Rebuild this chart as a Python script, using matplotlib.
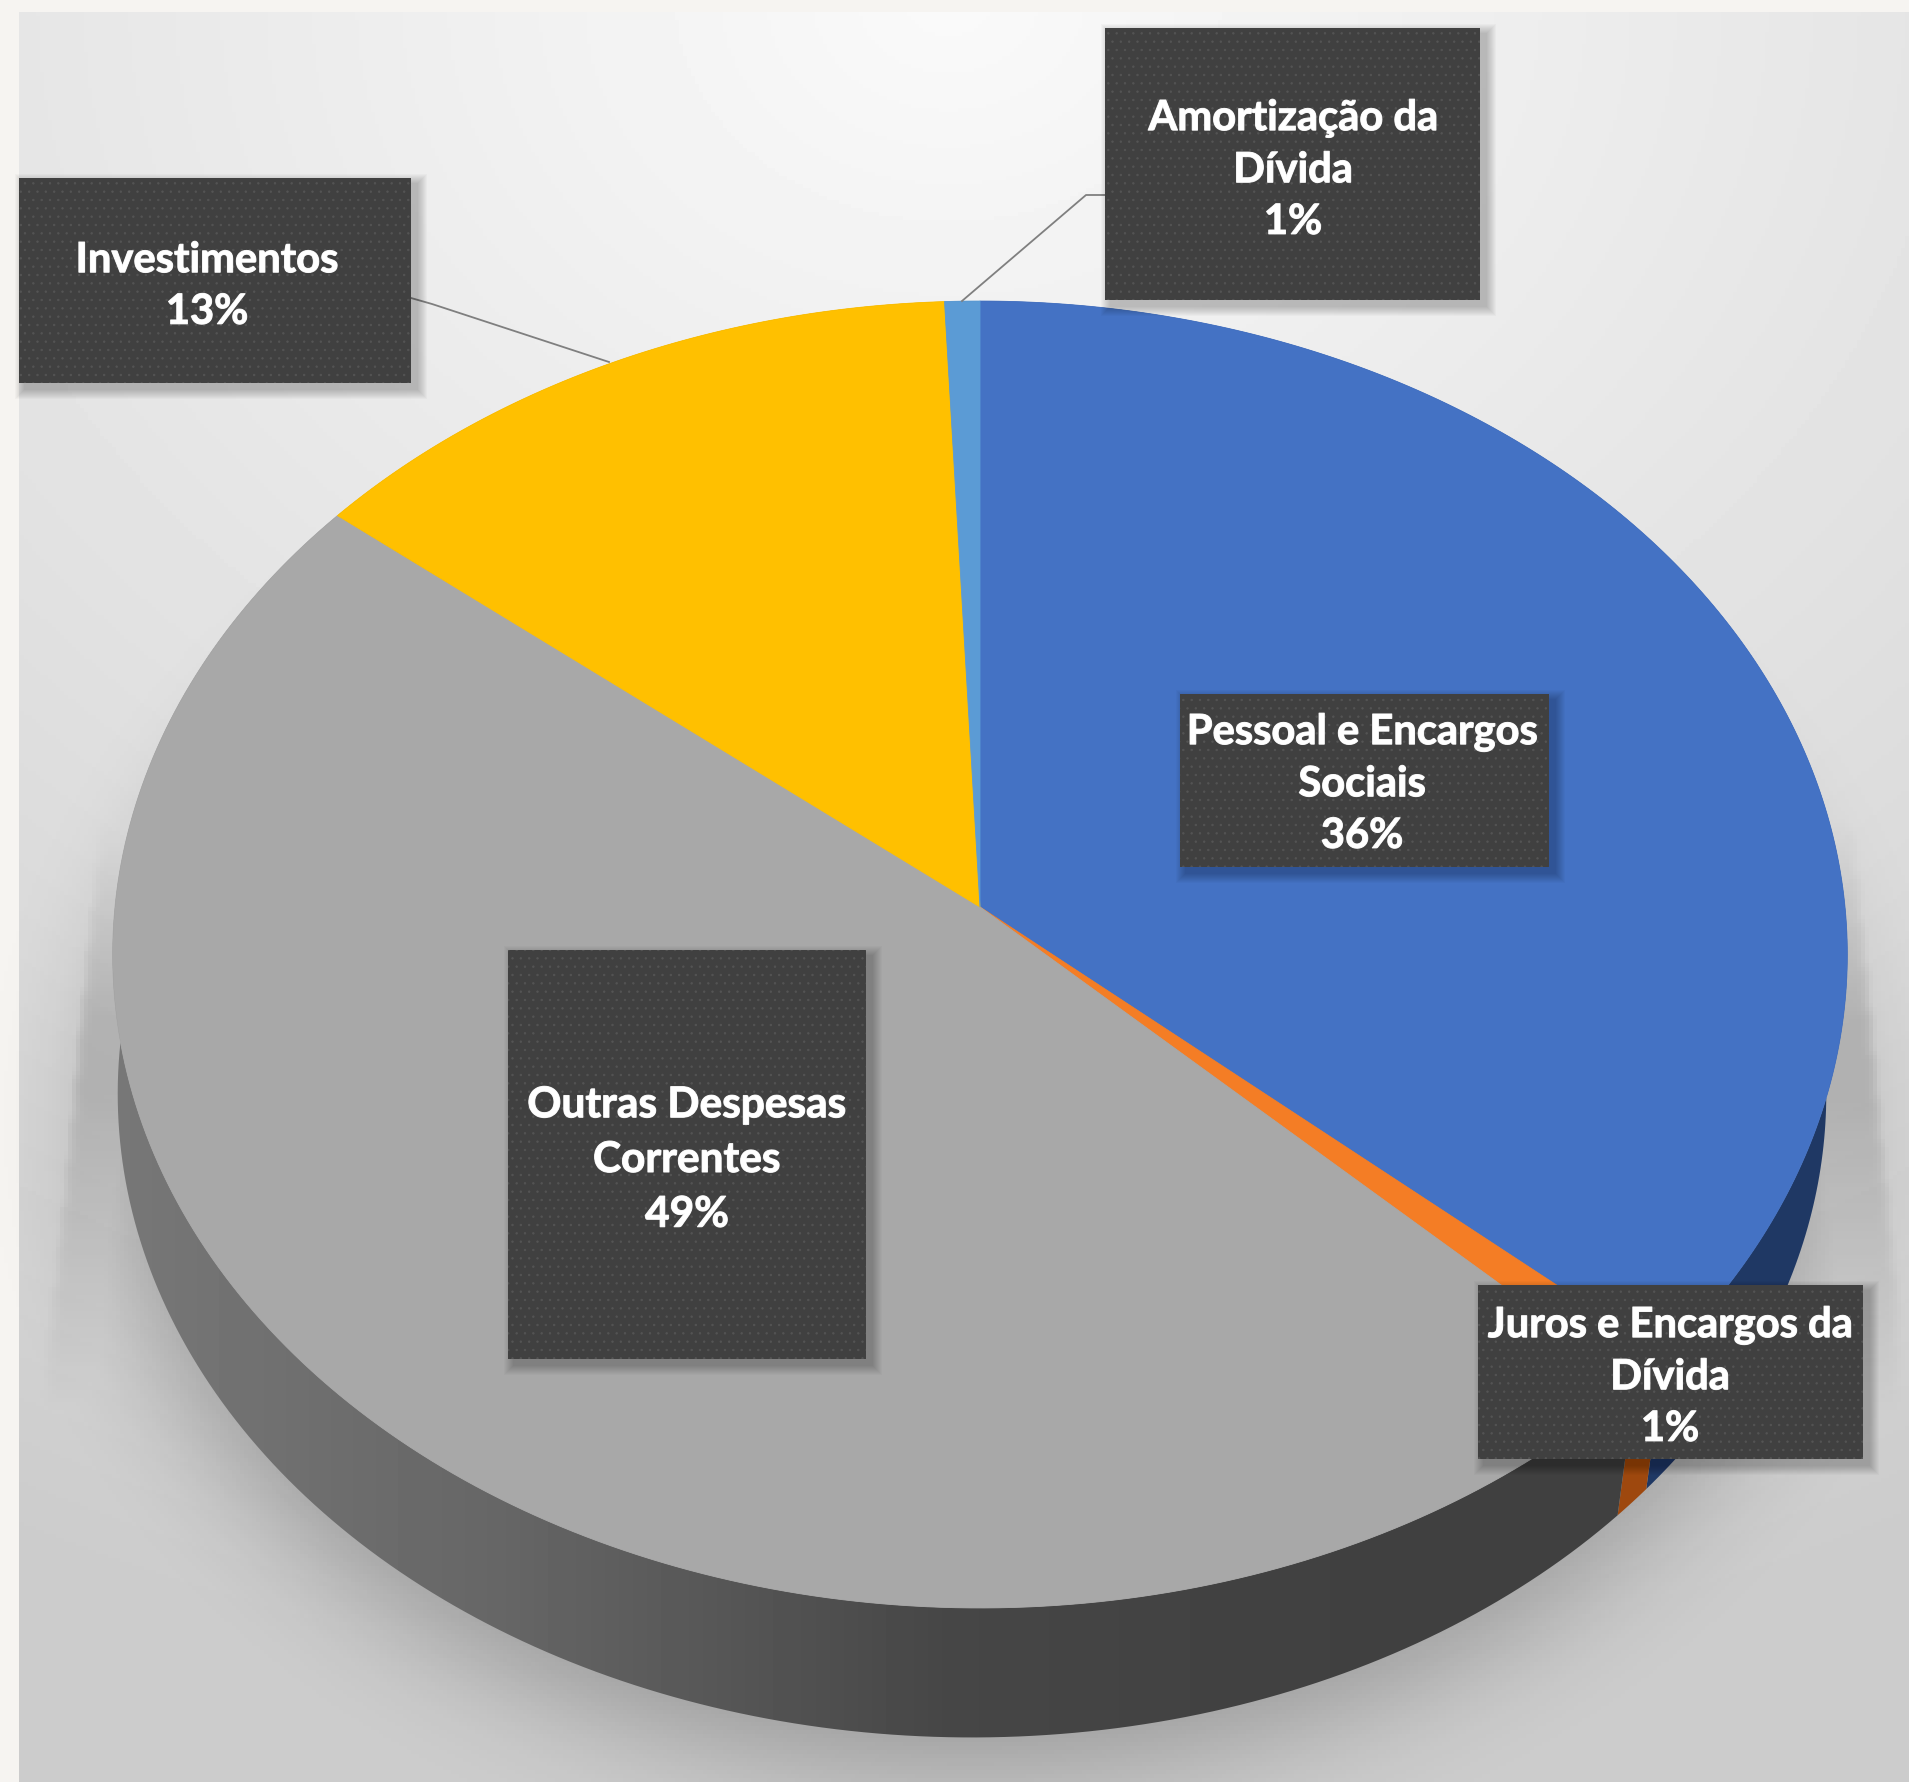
import numpy as np
import matplotlib
matplotlib.use('Agg')
import matplotlib.pyplot as plt
import matplotlib.patheffects as pe
from matplotlib.path import Path
from matplotlib.patches import PathPatch, Rectangle

categories = ['Pessoal e Encargos\nSociais', 'Juros e Encargos da\nDívida', 'Outras Despesas\nCorrentes',
              'Investimentos', 'Amortização da\nDívida']
values = [36.4, 0.8, 48.6, 13.45, 0.7]
top_colors = ['#4472c4', '#f47d25', '#a8a8a8', '#ffc000', '#5b9bd5']
side_colors = ['#1f3864', '#9e480e', '#5a5a5a', '#997300', '#255e91']

W, H = 1909, 1782
plt.rcParams['font.family'] = ['Lato', 'DejaVu Sans']

# disc geometry, pixels
cx, cy = 980, 907
disc_a, disc_b, persp = 865, 650, 0.0727
low_scale, low_cy, low_dx = 0.985, 1047, -8


def disc_xy(theta, scale=1.0, y0=cy, dx=0):
    # theta in degrees, clockwise from 12 o'clock, with a little perspective
    t = np.radians(theta)
    d = 1 + persp * np.cos(t)
    return cx + dx + scale * disc_a * np.sin(t) / d, y0 - scale * disc_b * np.cos(t) / d


def blur(arr, sigma):
    r = int(3 * sigma)
    kern = np.exp(-0.5 * (np.arange(-r, r + 1) / sigma) ** 2)
    kern /= kern.sum()
    arr = np.apply_along_axis(lambda m: np.convolve(np.pad(m, r, mode='edge'), kern, mode='valid'), 0, arr)
    arr = np.apply_along_axis(lambda m: np.convolve(np.pad(m, r, mode='edge'), kern, mode='valid'), 1, arr)
    return arr


fig = plt.figure(figsize=(W / 100, H / 100), dpi=100, facecolor='#f6f4f1')
ax = fig.add_axes([0, 0, 1, 1])
ax.set_xlim(0, W)
ax.set_ylim(H, 0)
ax.axis('off')

# plot area background
gx, gy = np.meshgrid(np.arange(0, W, 4) + 2, np.arange(0, H, 4) + 2)
dist = np.sqrt(((gx - 950) / 2200) ** 2 + (gy / 1782) ** 2)
bg = np.clip(250 - 48 * dist, 204, 250) / 255
bg_im = ax.imshow(bg, cmap='gray', vmin=0, vmax=1, extent=(0, W, H, 0), aspect='auto', zorder=1)
bg_im.set_clip_path(Rectangle((19, 12), W - 19, H - 12, transform=ax.transData))

# pie shadow: soft blob under the disc plus the widening band on both sides
angles = np.linspace(0, 360, 361)
lx, ly = disc_xy(angles, 1.0, low_cy + 24, low_dx)
pts = np.column_stack([gx.ravel(), gy.ravel()])
blob = Path(np.column_stack([lx, ly])).contains_points(pts).reshape(gx.shape).astype(float)
blob = blur(blob, 14)
trap = Path([(100, 800), (50, 1330), (20, 1782), (1909, 1782), (1900, 1300), (1855, 800)]).contains_points(pts)
trap = blur(trap.reshape(gx.shape).astype(float), 1.5)
fade = np.clip((1420 - gy) / 330, 0, 1) * np.clip((gy - 800) / 220, 0, 1)
shade = np.maximum(0.18 * trap * fade, 0.25 * blob)
rgba = np.zeros(gx.shape + (4,))
rgba[..., 3] = shade
ax.imshow(rgba, extent=(0, W, H, 0), aspect='auto', zorder=2)

# slices
edges = np.concatenate([[0], np.cumsum(values)]) / np.sum(values) * 360
for i in range(len(values)):
    th = np.linspace(edges[i], edges[i + 1], 200)
    ux, uy = disc_xy(th)
    dx, dy = disc_xy(th, low_scale, low_cy, low_dx)
    side_x = np.concatenate([ux, dx[::-1]])
    side_y = np.concatenate([uy, dy[::-1]])
    if categories[i].startswith('Outras'):
        # the grey side darkens from left to right
        ramp = np.interp(np.arange(W), [100, 500, 950, 1400], [0.47, 0.40, 0.275, 0.25]).reshape(1, -1)
        side_im = ax.imshow(ramp, cmap='gray', vmin=0, vmax=1, extent=(0, W, H, 0), aspect='auto', zorder=3)
        side_im.set_clip_path(PathPatch(Path(np.column_stack([side_x, side_y])), transform=ax.transData))
    else:
        ax.fill(side_x, side_y, color=side_colors[i], lw=0, zorder=3)

for i in range(len(values)):
    th = np.linspace(edges[i], edges[i + 1], 200)
    ux, uy = disc_xy(th)
    ax.fill(np.r_[cx, ux], np.r_[cy, uy], color=top_colors[i], lw=0.6, zorder=4)

# leader lines
ax.plot([411, 432, 609], [298, 304, 362], color='#7f7f7f', lw=1.3, zorder=5)
ax.plot([1105, 1086, 962], [195, 195, 301], color='#7f7f7f', lw=1.3, zorder=5)

# data labels: box x0, y0, x1, y1, text centre x, y, font size, line spacing
boxes = [(1180, 694, 1549, 867, 1362, 784, 30, 1.44),
         (1478, 1285, 1863, 1459, 1670, 1377, 30, 1.44),
         (508, 950, 866, 1359, 687, 1160, 30.5, 1.54),
         (19, 178, 411, 383, 207, 286, 30, 1.44),
         (1105, 28, 1480, 300, 1293, 170, 30, 1.44)]
plt.rcParams['hatch.linewidth'] = 0.5
for i, b in enumerate(boxes):
    x0, y0, x1, y1, tx, ty, fs, sp = b
    # soft drop shadow
    for k in range(10, 0, -1):
        ax.add_patch(Rectangle((x0 + 6 - k, y0 + 6 - k), x1 - x0 + 2 * k, y1 - y0 + 2 * k, fc='black', ec='none',
                               alpha=0.025, zorder=6))
    ax.add_patch(Rectangle((x0, y0), x1 - x0, y1 - y0, fc='#404040', ec='none', zorder=7))
    ax.add_patch(Rectangle((x0, y0), x1 - x0, y1 - y0, fc='none', ec='#545454', hatch='..', lw=0, zorder=7))
    t = ax.text(tx, ty, '%s\n%.0f%%' % (categories[i], values[i]), color='white', fontsize=fs, fontweight='bold',
                ha='center', va='center', linespacing=sp, zorder=8)
    t.set_path_effects([pe.withStroke(linewidth=0.8, foreground='#f0f0f0')])

fig.savefig('out.png', dpi=100, facecolor=fig.get_facecolor())
